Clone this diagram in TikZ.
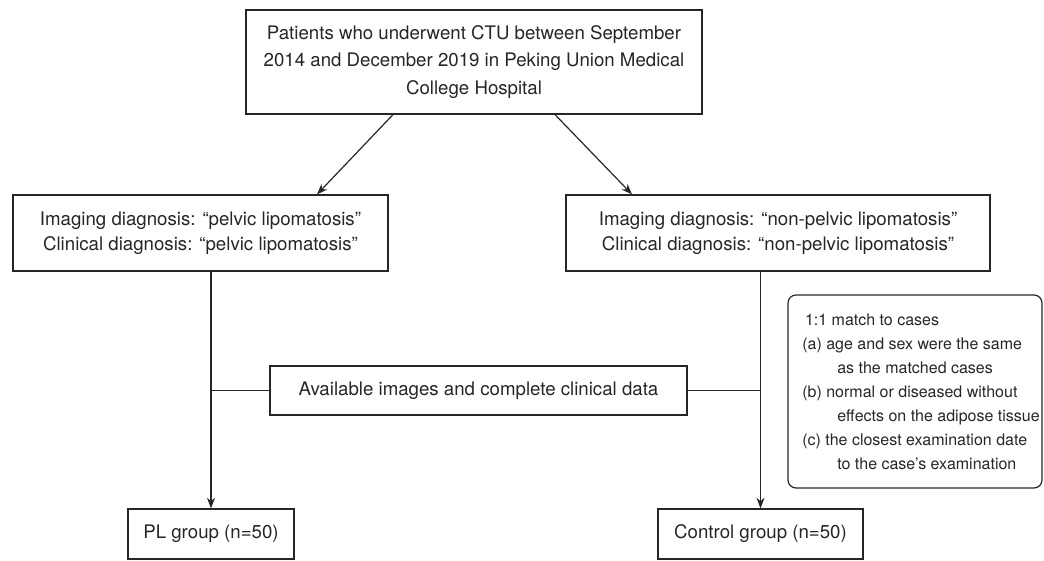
\documentclass[tikz,border=0pt]{standalone}
\usepackage{fontspec}
\setmainfont{TeX Gyre Heros}
\usetikzlibrary{arrows.meta,calc}
\definecolor{ink}{HTML}{262626}
\begin{document}
\begin{tikzpicture}
[x=0.75pt,y=-0.75pt,inner sep=0pt,line width=0.9pt,
box/.style={draw=ink, text=ink, align=center, font=\fontsize{14}{19}\selectfont},
note/.style={draw=ink, text=ink, rounded corners=6pt, align=left, font=\fontsize{12}{18}\selectfont},
towards/.style={draw=ink, ->, >={Stealth[length=8pt,width=6pt]}},
joint/.style={draw=ink}]
\useasboundingbox (0,0) rectangle (1044,560);

\node[box, minimum width=342pt, minimum height=78pt, font=\fontsize{14}{20.5}\selectfont] (top) at (474,62)
  {Patients who underwent CTU between September\\2014 and December 2019 in Peking Union Medical\\College Hospital};

\node[box, minimum width=281.25pt, minimum height=57pt] (lft) at (200.5,233)
  {Imaging diagnosis: “pelvic lipomatosis”\\Clinical diagnosis: “pelvic lipomatosis”};
\node[box, minimum width=318pt, minimum height=57pt] (rgt) at (778,233)
  {Imaging diagnosis: “non-pelvic lipomatosis”\\Clinical diagnosis: “non-pelvic lipomatosis”};

\node[box, minimum width=312.75pt, minimum height=36.75pt] (avail) at (478.5,390.5)
  {Available images and complete clinical data};

\node[note, minimum width=190.5pt, minimum height=144.75pt] (match) at (915,391.5)
  {\hspace*{11pt}1:1 match to cases\\
   \hspace*{9pt}(a) age and sex were the same\\
   \hspace*{35.25pt}as the matched cases\\
   \hspace*{9pt}(b) normal or diseased without\\
   \hspace*{35.25pt}effects on the adipose tissue\\
   \hspace*{9pt}(c) the closest examination date\\
   \hspace*{35.25pt}to the case’s examination};

\node[box, minimum width=124.5pt, minimum height=37.5pt] (pl) at (211,534) {PL group (n=50)};
\node[box, minimum width=153.75pt, minimum height=37.5pt] (ctl) at (760.5,534) {Control group (n=50)};

% SPLIT
\draw [towards] ($(top.south)+(-81,0)$) -- ($(lft.north)+(116.5,0)$);
\draw [towards] ($(top.south)+(81,0)$) -- ($(rgt.north)+(-146,0)$);

% GROUPS
\draw [towards] (lft.south -| pl.north) -- (pl.north);
\draw [towards] (rgt.south -| ctl.north) -- (ctl.north);

\draw [joint] (avail.west) -- (avail.west -| pl.north);
\draw [joint] (avail.east) -- (avail.east -| ctl.north);
\end{tikzpicture}
\end{document}
